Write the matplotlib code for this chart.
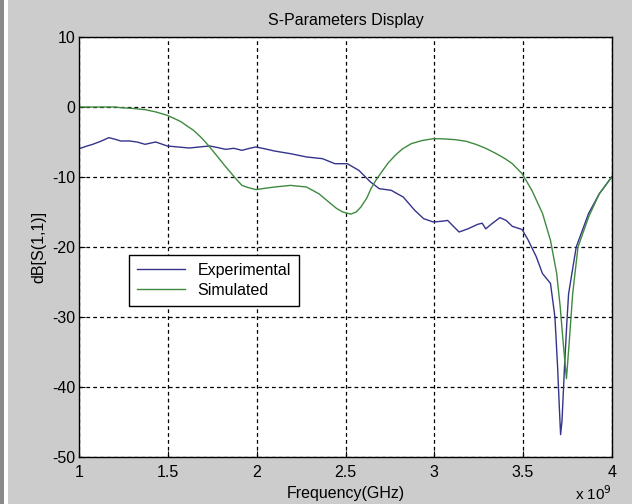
import matplotlib
matplotlib.use('Agg')
import matplotlib.pyplot as plt
from matplotlib.patches import Rectangle

# measured / simulated return loss, freq in GHz
freq_exp = [1.0, 1.04, 1.075, 1.12, 1.166, 1.2, 1.234, 1.28, 1.325, 1.37, 1.43, 1.495,
            1.55, 1.62, 1.68, 1.734, 1.78, 1.825, 1.87, 1.916, 1.96, 1.995, 2.05, 2.1,
            2.19, 2.28, 2.37, 2.44, 2.51, 2.575, 2.64, 2.69, 2.757, 2.825, 2.89, 2.94,
            2.995, 3.05, 3.075, 3.11, 3.14, 3.19, 3.245, 3.27, 3.29, 3.325, 3.37, 3.405,
            3.44, 3.495, 3.53, 3.575, 3.61, 3.655, 3.68, 3.695, 3.705, 3.712, 3.72,
            3.734, 3.747, 3.757, 3.8, 3.87, 3.93, 4.0]
s11_exp = [-5.95, -5.6, -5.33, -4.9, -4.38, -4.6, -4.86, -4.85, -5.0, -5.33, -5.0, -5.57,
           -5.7, -5.86, -5.7, -5.57, -5.8, -6.05, -5.9, -6.19, -5.9, -5.71, -6.0, -6.29,
           -6.67, -7.14, -7.38, -8.1, -8.1, -9.05, -10.7, -11.67, -11.9, -12.86, -14.76, -15.95,
           -16.43, -16.3, -16.2, -17.1, -17.86, -17.4, -16.76, -16.6, -17.4, -16.67, -15.8, -16.2,
           -17.05, -17.5, -19.05, -21.4, -23.8, -25.2, -30.0, -37.1, -43.0, -46.8, -44.8,
           -37.1, -30.9, -26.7, -20.0, -15.2, -12.4, -10.0]

freq_sim = [1.0, 1.1, 1.2, 1.234, 1.3, 1.37, 1.43, 1.495, 1.54, 1.575, 1.6, 1.643, 1.68,
            1.71, 1.75, 1.78, 1.82, 1.85, 1.88, 1.916, 1.95, 1.995, 2.05, 2.1, 2.19, 2.28,
            2.35, 2.416, 2.45, 2.484, 2.53, 2.56, 2.586, 2.62, 2.643, 2.67, 2.71, 2.74,
            2.78, 2.82, 2.87, 2.93, 2.995, 3.05, 3.12, 3.18, 3.234, 3.29, 3.35, 3.40,
            3.44, 3.495, 3.55, 3.61, 3.655, 3.69, 3.71, 3.727, 3.745, 3.76, 3.78, 3.81,
            3.87, 3.93, 4.0]
s11_sim = [0.0, 0.0, 0.0, -0.1, -0.2, -0.38, -0.7, -1.19, -1.7, -2.14, -2.6, -3.33, -4.2,
           -5.0, -6.2, -7.14, -8.4, -9.29, -10.2, -11.2, -11.5, -11.8, -11.6, -11.43, -11.2, -11.43,
           -12.4, -13.8, -14.5, -15.0, -15.3, -15.0, -14.3, -13.0, -11.67, -10.5, -9.05, -8.0,
           -6.9, -6.0, -5.24, -4.8, -4.52, -4.55, -4.67, -4.9, -5.33, -5.9, -6.67, -7.4,
           -8.1, -9.52, -11.9, -15.2, -19.05, -23.8, -28.6, -33.8, -38.8, -33.8, -26.7, -20.0,
           -15.7, -12.4, -10.0]

xticks = [1, 1.5, 2, 2.5, 3, 3.5, 4]
yticks = [-50, -40, -30, -20, -10, 0, 10]

plt.rcParams['font.family'] = ['Liberation Sans', 'DejaVu Sans']
plt.rcParams['axes.unicode_minus'] = False

fig = plt.figure(figsize=(6.32, 5.04), dpi=100)
fig.patch.set_facecolor('#cccccc')
# window edge on the left
fig.patches.append(Rectangle((0, 0), 4 / 632, 1, transform=fig.transFigure,
                             facecolor='#8a8a8a', edgecolor='none'))
fig.patches.append(Rectangle((4 / 632, 0), 4 / 632, 1, transform=fig.transFigure,
                             facecolor='white', edgecolor='none'))

ax = fig.add_axes([79.4 / 632, 47 / 504, 532.3 / 632, 420 / 504])
ax.plot(freq_exp, s11_exp, color='#34348a', lw=1.0, label='Experimental')
ax.plot(freq_sim, s11_sim, color='#3f8a3f', lw=1.0, label='Simulated')

ax.set_xlim(1, 4)
ax.set_ylim(-50, 10)
ax.set_xticks(xticks)
ax.set_xticklabels(['1', '1.5', '2', '2.5', '3', '3.5', '4'])
ax.set_yticks(yticks)
ax.tick_params(direction='in', length=4, labelsize=11.5, colors='black')
ax.tick_params(axis='x', pad=6)
ax.tick_params(axis='y', pad=3)
ax.grid(True, color='black', linestyle=(0, (3, 2.5)), lw=0.9)
for sp in ax.spines.values():
    sp.set_linewidth(1.0)
    sp.set_color('black')

ax.set_title('S-Parameters Display', fontsize=11.5, pad=9)
ax.set_xlabel('Frequency(GHz)', fontsize=11.5, labelpad=4)
ax.set_ylabel('dB[S(1,1)]', fontsize=11.5, labelpad=4)
fig.text(575 / 632, 1 / 504, r'x 10$^{9}$', fontsize=11, va='bottom', ha='left')

leg = ax.legend(loc='upper left', bbox_to_anchor=(0.093, 0.481), borderaxespad=0,
                fontsize=11.5, fancybox=False, framealpha=1, edgecolor='black',
                handlelength=3.0, borderpad=0.5, labelspacing=0.3)
leg.get_frame().set_linewidth(1.0)

fig.savefig('out.png', dpi=100, facecolor=fig.get_facecolor())
